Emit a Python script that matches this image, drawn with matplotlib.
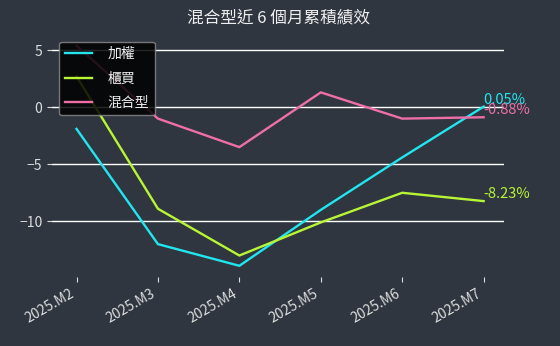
import numpy as np
import matplotlib.pyplot as plt

plt.rcParams['font.family'] = ['Noto Sans CJK TC', 'DejaVu Sans']

months = ['2025.M2', '2025.M3', '2025.M4', '2025.M5', '2025.M6', '2025.M7']
taiex = [-1.9, -12.0, -13.9, -9.0, -4.4, 0.05]
otc = [2.7, -8.9, -13.0, -10.1, -7.5, -8.23]
mixed = [5.4, -1.0, -3.5, 1.3, -1.0, -0.88]

names = ['加權', '櫃買', '混合型']
colors = ['#22e5ee', '#b8f534', '#ee6fa8']
bg = '#2f3640'

fig = plt.figure(figsize=(5.6, 3.46), dpi=100, facecolor=bg)
ax = fig.add_axes([0.093, 0.2, 0.807, 0.7])
ax.set_facecolor(bg)

x = np.arange(len(months))
for vals, name, c in zip([taiex, otc, mixed], names, colors):
    ax.plot(x, vals, color=c, linewidth=1.7, label=name)
    ax.text(x[-1], vals[-1], f'{vals[-1]:.2f}%', color=c, fontsize=10.5,
            ha='left', va='bottom')

ax.set_xlim(-0.3, 5.25)
ax.set_yticks([5, 0, -5, -10])
ax.yaxis.grid(True, color='white', linewidth=1)
ax.set_axisbelow(True)
ax.set_xticks(x)
ax.set_xticklabels(months, rotation=30, ha='right')
ax.tick_params(colors='#dddddd', labelsize=10)
for s in ax.spines.values():
    s.set_visible(False)

leg = ax.legend(loc='upper left', fontsize=10, facecolor='black',
                edgecolor='#888888', framealpha=0.85, labelcolor='#eeeeee',
                labelspacing=0.75, handletextpad=1.1)

ax.set_title('混合型近 6 個月累積績效', color='#eeeeee', fontsize=12, pad=9)

fig.savefig('out.png', dpi=100, facecolor=bg)
